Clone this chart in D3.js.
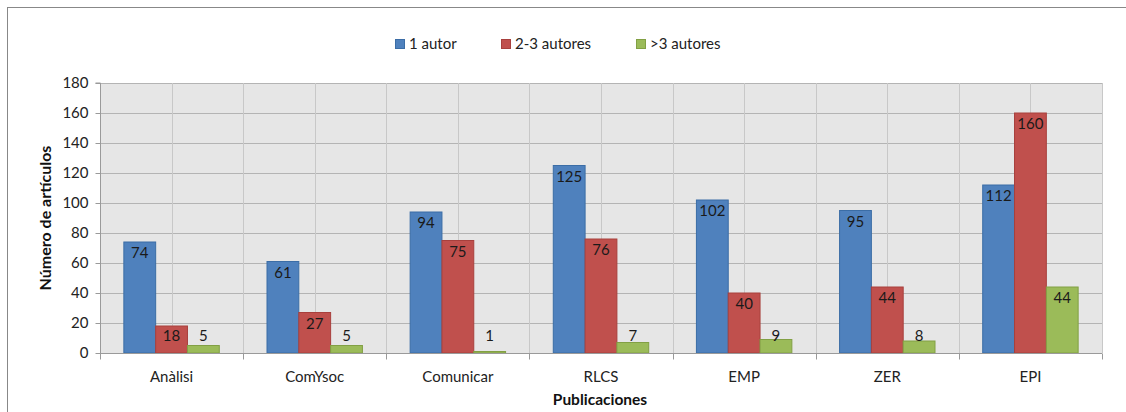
<!DOCTYPE html>
<html><head><meta charset="utf-8">
<script src="https://cdn.jsdelivr.net/npm/d3@7/dist/d3.min.js"></script>
<style>
html,body{margin:0;padding:0;background:#fff;}
svg{display:block;font-family:Lato,"Open Sans",sans-serif;}
</style></head><body>
<svg id="chart" width="1126" height="412"></svg>
<script>
const categories = ["Anàlisi","ComYsoc","Comunicar","RLCS","EMP","ZER","EPI"];
const seriesNames = ["1 autor","2-3 autores",">3 autores"];
const autor1 = [74,61,94,125,102,95,112];
const autores23 = [18,27,75,76,40,44,160];
const autores3 = [5,5,1,7,9,8,44];
const yTicks = [0,20,40,60,80,100,120,140,160,180];
const colors = ["#4F81BD","#C0504D","#9BBB59"];
const strokes = ["#3B6DA6","#A8403D","#82A044"];
const seriesValues = [autor1, autores23, autores3];

const svg = d3.select("#chart");
svg.append("rect").attr("x",7.5).attr("y",7.5).attr("width",1130).attr("height",420)
  .attr("fill","#fff").attr("stroke","#888").attr("stroke-width",1);

const L=100, R=1102, T=83, B=353;
const x = d3.scaleBand().domain(categories).range([L,R]).paddingInner(0).paddingOuter(0);
const xs = d3.scaleBand().domain(seriesNames).range([0,x.bandwidth()]).paddingInner(0).paddingOuter(0.75);
const y = d3.scaleLinear().domain([0,180]).range([B,T]);
const FS = "15px";

const g = svg.append("g");
g.append("rect").attr("x",L).attr("y",T).attr("width",R-L).attr("height",B-T).attr("fill","#E6E6E6");

// horizontal gridlines
g.selectAll(".hg").data(yTicks.filter(d=>d>0)).enter().append("line")
  .attr("x1",L).attr("x2",R).attr("y1",d=>Math.round(y(d))+0.5).attr("y2",d=>Math.round(y(d))+0.5)
  .attr("stroke","#B4B4B4").attr("stroke-width",1);
// vertical gridlines at boundaries and centers
const vlines = [];
categories.forEach(c=>{vlines.push(x(c)+x.bandwidth()/2); vlines.push(x(c)+x.bandwidth());});
g.selectAll(".vg").data(vlines).enter().append("line")
  .attr("y1",T).attr("y2",B).attr("x1",d=>Math.round(d)+0.5).attr("x2",d=>Math.round(d)+0.5)
  .attr("stroke","#C8C8C8").attr("stroke-width",1);

// bars
seriesValues.forEach((vals,si)=>{
  g.selectAll(".b"+si).data(categories).enter().append("rect")
    .attr("x",(c)=>x(c)+xs(seriesNames[si]))
    .attr("width",xs.bandwidth())
    .attr("y",(c,i)=>y(vals[i]))
    .attr("height",(c,i)=>B-y(vals[i]))
    .attr("fill",colors[si]).attr("stroke",strokes[si]).attr("stroke-width",1);
  g.selectAll(".l"+si).data(categories).enter().append("text")
    .attr("x",(c)=>x(c)+xs(seriesNames[si])+xs.bandwidth()/2)
    .attr("y",(c,i)=>Math.min(y(vals[i])+11,336))
    .attr("dy","0.36em").attr("text-anchor","middle")
    .attr("font-size",FS).attr("fill","#1a1a1a")
    .text((c,i)=>vals[i]);
});

// y axis
const yAxis = d3.axisLeft(y).tickValues(yTicks).tickSize(5).tickPadding(7);
const ya = svg.append("g").attr("transform",`translate(${L+0.5},0)`).call(yAxis);
ya.select(".domain").attr("stroke","#9a9a9a").attr("d",`M-5,${T}H0V${B}`);
ya.selectAll(".tick line").attr("stroke","#9a9a9a");
ya.selectAll(".tick text").attr("font-size",FS).attr("fill","#222").attr("font-family","Lato,sans-serif");
ya.selectAll(".tick").attr("transform",d=>`translate(0,${Math.round(y(d))+0.5})`);

// x axis
const xa = svg.append("g").attr("transform",`translate(0,${B+0.5})`);
xa.append("line").attr("x1",L).attr("x2",R).attr("stroke","#9a9a9a");
const bounds = [L].concat(categories.map(c=>x(c)+x.bandwidth()));
xa.selectAll(".xt").data(bounds).enter().append("line")
  .attr("x1",d=>Math.round(d)+0.5).attr("x2",d=>Math.round(d)+0.5).attr("y1",0).attr("y2",6).attr("stroke","#9a9a9a");
xa.selectAll(".xl").data(categories).enter().append("text")
  .attr("x",c=>x(c)+x.bandwidth()/2).attr("y",23).attr("dy","0.36em").attr("text-anchor","middle")
  .attr("font-size",FS).attr("fill","#222").text(c=>c);

// axis titles
svg.append("text").attr("x",600).attr("y",399).attr("dy","0.36em").attr("text-anchor","middle")
  .attr("font-size","15.5px").attr("font-weight","bold").attr("fill","#111").text("Publicaciones");
svg.append("text").attr("transform","translate(45,218) rotate(-90)").attr("dy","0.36em").attr("text-anchor","middle")
  .attr("font-size","16px").attr("font-weight","bold").attr("fill","#111").text("Número de artículos");

// legend
const legX = [395,501,636];
const lg = svg.append("g");
seriesNames.forEach((s,i)=>{
  lg.append("rect").attr("x",legX[i]+0.5).attr("y",39.5).attr("width",9).attr("height",9)
    .attr("fill",colors[i]).attr("stroke",strokes[i]);
  lg.append("text").attr("x",legX[i]+14).attr("y",44).attr("dy","0.36em")
    .attr("font-size",FS).attr("fill","#222").text(s);
});
</script>
</body></html>
